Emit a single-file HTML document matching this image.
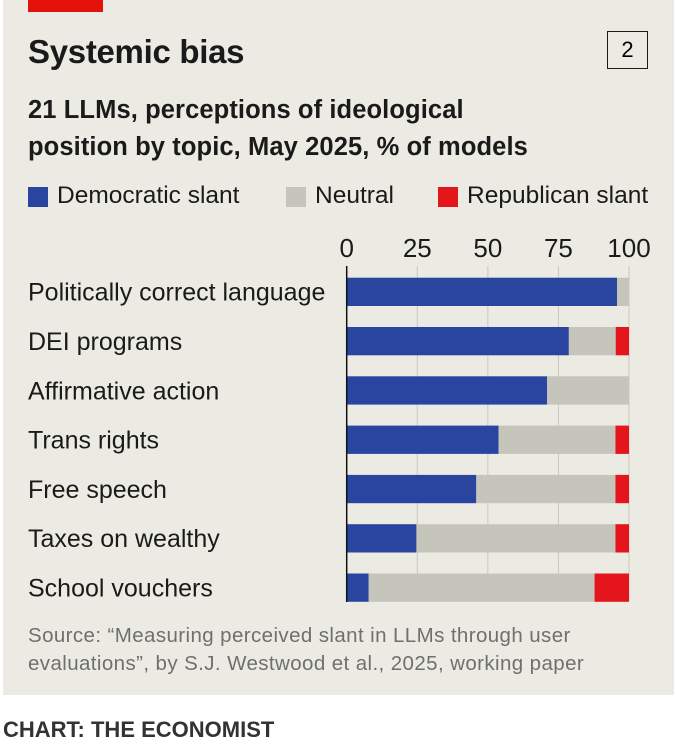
<!DOCTYPE html>
<html><head><meta charset="utf-8"><style>
body{margin:0;width:676px;height:750px;background:#fff;font-family:"Liberation Sans",sans-serif;position:relative;overflow:hidden}
.panel{position:absolute;left:3px;top:0;width:671px;height:695px;background:#ecebe3}
.t{position:absolute;white-space:nowrap;color:#1a1a1a}
</style></head><body>
<div class="panel"></div>
<div style="position:absolute;left:28px;top:0;width:75px;height:12px;background:#e3120b"></div>
<div class="t" style="left:28px;top:33px;font-size:33px;font-weight:bold;letter-spacing:-0.3px">Systemic bias</div>
<div style="position:absolute;left:607px;top:31px;width:39px;height:36px;border:1.5px solid #1a1a1a;font-size:22px;text-align:center;line-height:36px">2</div>
<div class="t" style="left:28px;top:92px;font-size:25.5px;font-weight:bold;line-height:37px;letter-spacing:0.1px">21 LLMs, perceptions of ideological<br>position by topic, May 2025, % of models</div>
<div>
<div style="position:absolute;left:28px;top:187px;width:20px;height:20px;background:#2a45a0"></div>
<div class="t" style="left:57px;top:182px;font-size:24.5px">Democratic slant</div>
<div style="position:absolute;left:286px;top:187px;width:20px;height:20px;background:#c6c5bb"></div>
<div class="t" style="left:315px;top:182px;font-size:24.5px">Neutral</div>
<div style="position:absolute;left:438px;top:187px;width:20px;height:20px;background:#e4161b"></div>
<div class="t" style="left:467px;top:182px;font-size:24.5px">Republican slant</div>
</div>
<svg id="chart" width="676" height="750" style="position:absolute;left:0;top:0"></svg>
<div class="t" style="left:28px;top:622px;font-size:20.5px;color:#6f6f6f;line-height:28px;letter-spacing:0.4px">Source: “Measuring perceived slant in LLMs through user<br>evaluations”, by S.J. Westwood et al., 2025, working paper</div>
<div class="t" style="left:3px;top:717px;font-size:22px;font-weight:bold;color:#333">CHART: THE ECONOMIST</div>
<script>
const categories=["Politically correct language","DEI programs","Affirmative action","Trans rights","Free speech","Taxes on wealthy","School vouchers"];
const democratic=[95.8,78.7,71,53.8,45.9,24.7,7.8];
const republican=[0,4.7,0,4.8,4.8,4.8,12.2];
const neutral=democratic.map((d,i)=>100-d-republican[i]);
const ticks=[0,25,50,75,100];
const NS="http://www.w3.org/2000/svg";
const svg=document.getElementById('chart');
const x=v=>346.7+v*2.823;
const rowY=i=>277.7+i*49.3;
const BH=28.3;
function mk(tag,attrs){const e=document.createElementNS(NS,tag);for(const k in attrs)e.setAttribute(k,attrs[k]);svg.appendChild(e);return e;}
ticks.forEach(t=>{
  if(t>0){const g=mk('line',{x1:x(t),x2:x(t),y1:266,y2:601,stroke:'#c9c8c0','stroke-width':1});
  
  }
  const l=mk('text',{x:x(t),y:257,'text-anchor':'middle','font-size':26,fill:'#1a1a1a','font-family':'Liberation Sans, sans-serif'});
  l.textContent=t;
  
  
});
categories.forEach((c,i)=>{
  const y=rowY(i);
  const segs=[[0,democratic[i],'#2a45a0','democratic'],[democratic[i],neutral[i],'#c6c5bb','neutral'],[democratic[i]+neutral[i],republican[i],'#e4161b','republican']];
  segs.forEach(s=>{if(s[1]<=0)return;
    const r=mk('rect',{x:x(s[0]),y:y,width:x(s[0]+s[1])-x(s[0]),height:BH,fill:s[2]});
    
    });
  const t=mk('text',{x:28,y:y+23,'font-size':25,fill:'#1a1a1a','font-family':'Liberation Sans, sans-serif'});
  t.textContent=c;
  
  
});
const ax=mk('line',{x1:x(0),x2:x(0),y1:266,y2:602,stroke:'#111','stroke-width':1.5});


</script>
</body></html>
